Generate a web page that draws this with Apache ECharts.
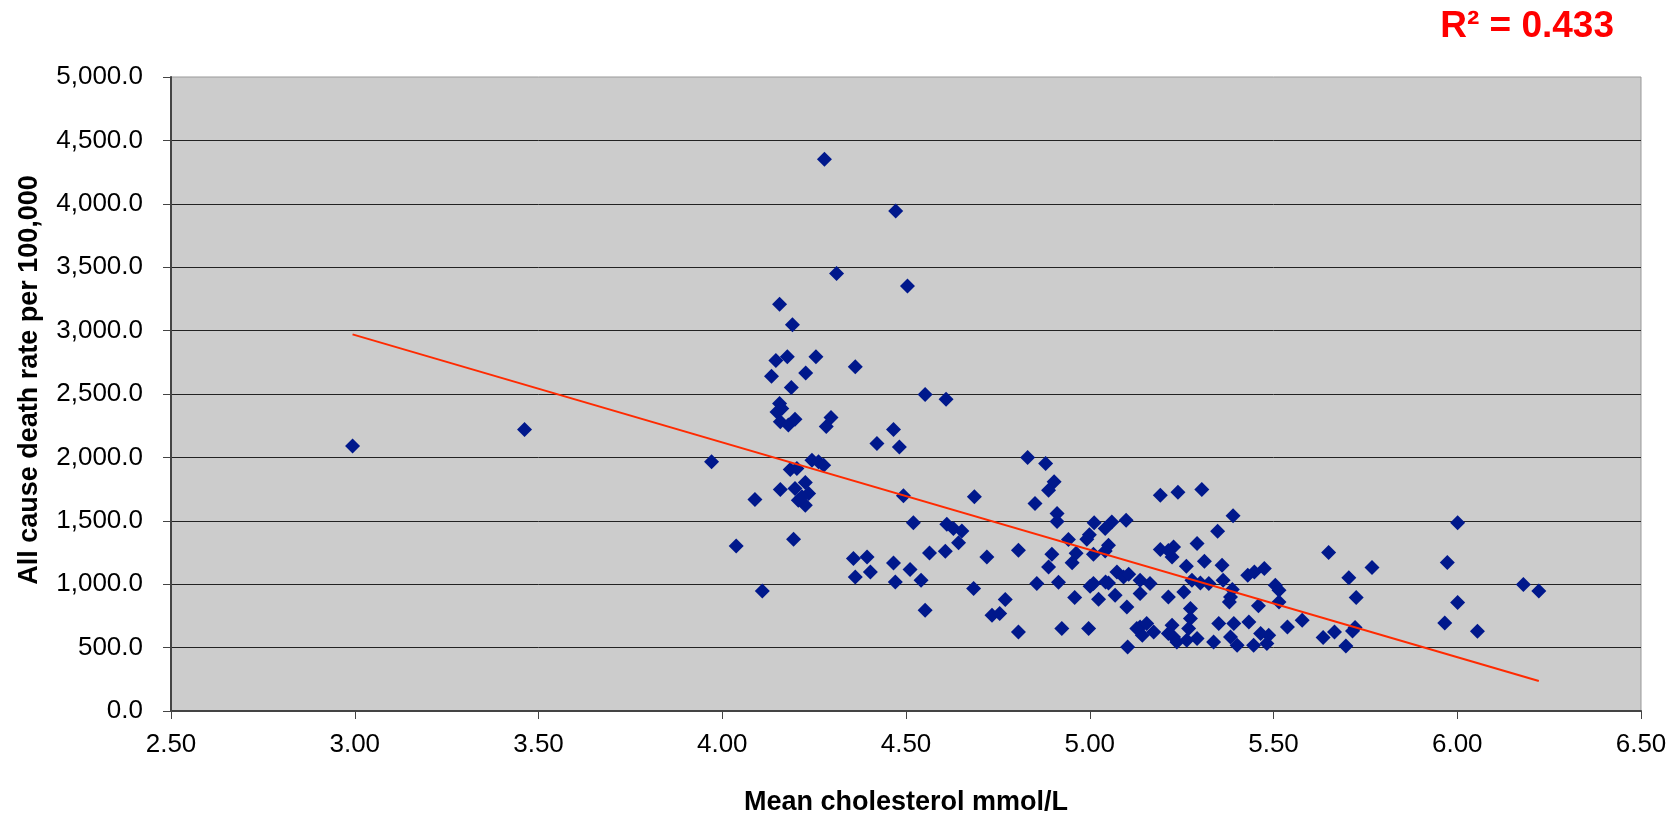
<!DOCTYPE html>
<html>
<head>
<meta charset="utf-8">
<script src="https://cdn.jsdelivr.net/npm/echarts@6/dist/echarts.min.js"></script>
<style>
  html, body { margin: 0; padding: 0; background: #fff; }
  #scatterChart { width: 1680px; height: 816px; }
</style>
</head>
<body>
<div id="scatterChart"></div>
<script>
// mean cholesterol (mmol/L) and all cause death rate per 100,000, one entry per country
var cholesterol = [
  2.994, 3.462, 3.971, 4.038, 4.089, 4.109, 4.134, 4.146, 4.156, 4.191,
  4.177, 4.255, 4.227, 4.188, 4.156, 4.162, 4.149, 4.158, 4.180, 4.198,
  4.296, 4.283, 4.278, 4.311, 4.158, 4.185, 4.203, 4.244, 4.262, 4.276,
  4.198, 4.226, 4.235, 4.207, 4.226, 4.217, 4.194, 4.362, 4.421, 4.466,
  4.482, 4.472, 4.504, 4.552, 4.609, 4.493, 4.520, 4.357, 4.394, 4.403,
  4.362, 4.466, 4.511, 4.471, 4.541, 4.552, 4.564, 4.607, 4.611, 4.629,
  4.652, 4.643, 4.686, 4.684, 4.720, 4.770, 4.734, 4.755, 4.806, 4.806,
  4.831, 4.880, 4.903, 4.888, 4.851, 4.911, 4.911, 4.856, 4.897, 4.888,
  4.915, 4.942, 4.963, 4.952, 4.959, 4.924, 4.997, 4.999, 4.992, 5.012,
  5.060, 5.099, 5.042, 5.051, 5.042, 5.010, 5.001, 5.024, 5.051, 5.069,
  5.074, 5.092, 5.106, 5.137, 5.164, 5.137, 5.101, 5.043, 5.010, 5.103,
  5.137, 5.155, 5.174, 5.143, 5.128, 5.192, 5.240, 5.305, 5.192, 5.228,
  5.224, 5.214, 5.214, 5.263, 5.256, 5.278, 5.301, 5.324, 5.292, 5.312,
  5.348, 5.390, 5.360, 5.363, 5.388, 5.383, 5.380, 5.274, 5.274, 5.269,
  5.264, 5.292, 5.224, 5.228, 5.214, 5.237, 5.337, 5.351, 5.392, 5.433,
  5.383, 5.401, 5.446, 5.465, 5.487, 5.482, 5.430, 5.448, 5.475, 5.459,
  5.505, 5.515, 5.515, 5.538, 5.578, 5.650, 5.768, 5.705, 5.725, 5.635,
  5.666, 5.697, 5.722, 5.715, 5.973, 6.001, 6.001, 5.966, 6.055, 6.180,
  6.222
]
var deathRate = [
  2089, 2220, 1965, 1302, 1668, 947, 2640, 2765, 3207, 3046,
  2793, 2793, 2665, 2552, 2425, 2386, 2359, 2282, 2256, 2300,
  2315, 2243, 4351, 3451, 1747, 1905, 1913, 1978, 1965, 1939,
  1755, 1802, 1715, 1662, 1623, 1689, 1355, 2714, 2110, 2220,
  2083, 3943, 3351, 2497, 2459, 1697, 1484, 1202, 1215, 1097,
  1057, 1168, 1116, 1018, 1031, 795, 1247, 1260, 1473, 1439,
  1420, 1326, 1689, 966, 1215, 879, 755, 769, 623, 1268,
  1999, 1952, 1807, 1741, 1636, 1557, 1495, 1005, 1236, 1136,
  1015, 1352, 1245, 1170, 895, 650, 650, 1390, 1355, 1484,
  1491, 1505, 1440, 1307, 1262, 1236, 984, 881, 1010, 913,
  1097, 1057, 1079, 1031, 1005, 926, 821, 1018, 1005, 505,
  663, 690, 623, 597, 650, 1702, 1725, 1747, 1273, 1294,
  1215, 1265, 899, 1142, 939, 1031, 1010, 1005, 1321, 1181,
  1418, 1539, 1150, 1031, 958, 899, 860, 808, 729, 650,
  558, 571, 676, 584, 611, 544, 544, 690, 690, 702,
  584, 518, 518, 611, 597, 532, 1071, 1097, 1123, 830,
  992, 952, 860, 663, 716, 1250, 1131, 1050, 895, 579,
  623, 513, 658, 631, 1171, 1484, 855, 694, 629, 997,
  947
]

// linear trend line end points as drawn in the original
var trendX = [2.994, 6.222]
var trendY = [2970, 237]

var rSquared = '0.433'

var xTicks = { min: 2.5, max: 6.5, step: 0.5 }
var yTicks = { min: 0, max: 5000, step: 500 }

var points = cholesterol.map(function (c, i) { return [c, deathRate[i]] })
var trend = trendX.map(function (c, i) { return [c, trendY[i]] })

var font = '"Liberation Sans", Arial, sans-serif'

var dom = document.getElementById('scatterChart')
var myChart = echarts.init(dom, null, { renderer: 'canvas' })
var option = {
  backgroundColor: '#ffffff',
  animation: false,
  grid: {
    left: 171,
    right: 39,
    top: 77,
    bottom: 105,
    containLabel: false,
    outerBoundsMode: 'none',
    show: true,
    backgroundColor: '#cccccc',
    borderColor: '#999999',
    borderWidth: 1
  },
  xAxis: {
    type: 'value',
    min: xTicks.min,
    max: xTicks.max,
    interval: xTicks.step,
    name: 'Mean cholesterol mmol/L',
    nameLocation: 'middle',
    nameGap: 78,
    nameTextStyle: { color: '#000', fontFamily: font, fontWeight: 'bold', fontSize: 27 },
    axisLine: { show: true, onZero: false, lineStyle: { color: '#444', width: 2 } },
    axisTick: { show: true, inside: false, length: 8, lineStyle: { color: '#444', width: 1 } },
    axisLabel: {
      color: '#000', fontFamily: font, fontSize: 26, margin: 21,
      formatter: function (v) { return v.toFixed(2) }
    },
    splitLine: { show: false }
  },
  yAxis: {
    type: 'value',
    min: yTicks.min,
    max: yTicks.max,
    interval: yTicks.step,
    name: 'All cause death rate per 100,000',
    nameLocation: 'middle',
    nameRotate: 90,
    nameGap: 128,
    nameTextStyle: {
      color: '#000', fontFamily: font, fontWeight: 'bold', fontSize: 27,
      padding: [0, 0, 0, 28]
    },
    axisLine: { show: true, onZero: false, lineStyle: { color: '#444', width: 2 } },
    axisTick: { show: true, inside: false, length: 8, lineStyle: { color: '#444', width: 1 } },
    axisLabel: {
      color: '#000', fontFamily: font, fontSize: 26, margin: 28,
      formatter: function (v) {
        return v.toLocaleString('en-US', { minimumFractionDigits: 1, maximumFractionDigits: 1 })
      }
    },
    splitLine: {
      show: true,
      showMinLine: false,
      showMaxLine: false,
      lineStyle: { color: '#222', width: 1 }
    }
  },
  graphic: [{
    type: 'text',
    right: 1680 - 1614,
    top: 8,
    style: {
      text: 'R\u00b2 = ' + rSquared,
      fill: '#ff0000',
      font: 'bold 37px ' + font
    }
  }],
  series: [
    {
      name: 'countries',
      type: 'scatter',
      data: points,
      symbol: 'diamond',
      symbolSize: 15,
      itemStyle: { color: '#00188c', opacity: 1 },
      z: 2
    },
    {
      name: 'trend',
      type: 'line',
      data: trend,
      showSymbol: false,
      symbol: 'none',
      lineStyle: { color: '#ff2a00', width: 2 },
      z: 3
    }
  ]
}
if (option && typeof option === 'object') {
  myChart.setOption(option, true)
}
</script>
</body>
</html>
